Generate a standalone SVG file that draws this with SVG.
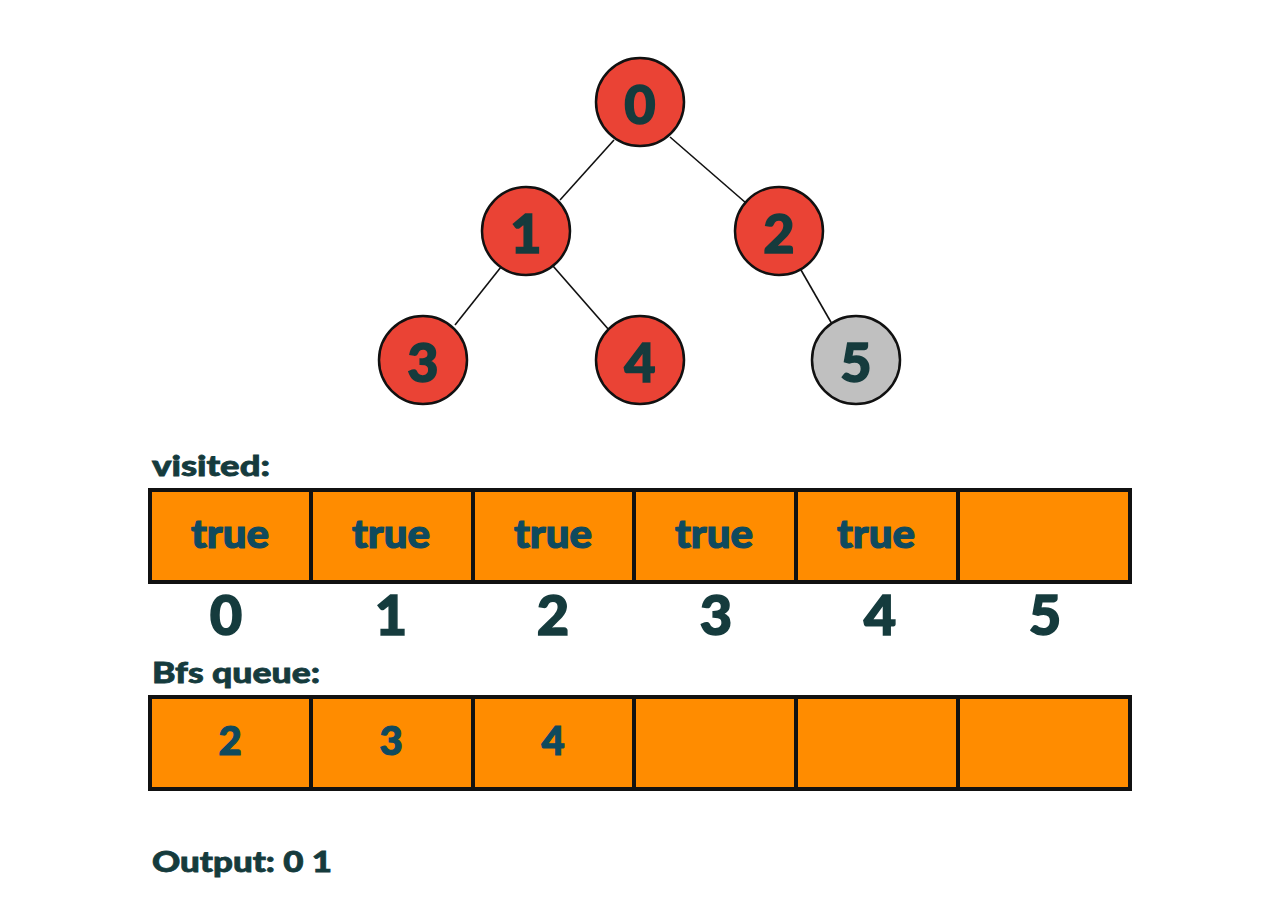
<svg xmlns="http://www.w3.org/2000/svg" width="1280" height="914" viewBox="0 0 1280 914">
<style>
.node circle{stroke:#111;stroke-width:2.5}
.red{fill:#ea4335}
.gray{fill:#c0c0c0}
.nt{font-family:"Lato","Open Sans",sans-serif;font-weight:900;font-size:54px;fill:#153b3d;text-anchor:middle;dominant-baseline:central;stroke:#153b3d;stroke-width:1.5}
.edges line{stroke:#111;stroke-width:1.6}
.cell{fill:#ff8c00;stroke:#111;stroke-width:4}
.val{font-family:"Lato","Open Sans",sans-serif;font-weight:900;font-size:40px;fill:#0f4a5e;text-anchor:middle;dominant-baseline:central;stroke:#0f4a5e;stroke-width:1.2}
.idx{font-family:"Lato","Open Sans",sans-serif;font-weight:900;font-size:56px;fill:#153b3d;text-anchor:middle;stroke:#153b3d;stroke-width:1.5}
.lbl{font-family:"Lato","Open Sans",sans-serif;font-weight:900;font-size:29px;fill:#153b3d;stroke:#153b3d;stroke-width:0.8}
</style>
<rect width="1280" height="914" fill="#fff"/>
<g class="edges">
<line x1="614" y1="140" x2="560" y2="200"/>
<line x1="670" y1="137" x2="746" y2="203"/>
<line x1="501" y1="267" x2="455" y2="325"/>
<line x1="553" y1="266" x2="609" y2="330"/>
<line x1="801" y1="270" x2="832" y2="324"/>
</g>
<g id="n0" class="node"><circle class="red" cx="640" cy="102" r="44"/><text class="nt" x="640" y="103">0</text></g>
<g id="n1" class="node"><circle class="red" cx="526" cy="231" r="44"/><text class="nt" x="526" y="232">1</text></g>
<g id="n2" class="node"><circle class="red" cx="779" cy="231" r="44"/><text class="nt" x="779" y="232">2</text></g>
<g id="n3" class="node"><circle class="red" cx="423" cy="360" r="44"/><text class="nt" x="423" y="361">3</text></g>
<g id="n4" class="node"><circle class="red" cx="640" cy="360" r="44"/><text class="nt" x="640" y="361">4</text></g>
<g id="n5" class="node"><circle class="gray" cx="856" cy="360" r="44"/><text class="nt" x="856" y="361">5</text></g>

<text class="lbl" x="152" y="476" textLength="118" lengthAdjust="spacingAndGlyphs">visited:</text>
<g id="visited">
<rect class="cell" x="150" y="490" width="161" height="92"/>
<rect class="cell" x="311" y="490" width="162" height="92"/>
<rect class="cell" x="473" y="490" width="161" height="92"/>
<rect class="cell" x="634" y="490" width="162" height="92"/>
<rect class="cell" x="796" y="490" width="162" height="92"/>
<rect class="cell" x="958" y="490" width="172" height="92"/>
<text class="val" x="230" y="533" textLength="78" lengthAdjust="spacingAndGlyphs">true</text>
<text class="val" x="391" y="533" textLength="78" lengthAdjust="spacingAndGlyphs">true</text>
<text class="val" x="553" y="533" textLength="78" lengthAdjust="spacingAndGlyphs">true</text>
<text class="val" x="714" y="533" textLength="78" lengthAdjust="spacingAndGlyphs">true</text>
<text class="val" x="876" y="533" textLength="78" lengthAdjust="spacingAndGlyphs">true</text>
</g>
<g id="indices">
<text class="idx" x="226" y="635">0</text>
<text class="idx" x="391" y="635">1</text>
<text class="idx" x="553" y="635">2</text>
<text class="idx" x="716" y="635">3</text>
<text class="idx" x="880" y="635">4</text>
<text class="idx" x="1045" y="635">5</text>
</g>

<text class="lbl" x="152" y="683" textLength="168" lengthAdjust="spacingAndGlyphs">Bfs queue:</text>
<g id="queue">
<rect class="cell" x="150" y="697" width="161" height="92"/>
<rect class="cell" x="311" y="697" width="162" height="92"/>
<rect class="cell" x="473" y="697" width="161" height="92"/>
<rect class="cell" x="634" y="697" width="162" height="92"/>
<rect class="cell" x="796" y="697" width="162" height="92"/>
<rect class="cell" x="958" y="697" width="172" height="92"/>
<text class="val" x="230" y="740">2</text>
<text class="val" x="391" y="740">3</text>
<text class="val" x="553" y="740">4</text>
</g>

<text class="lbl" x="152" y="872" font-size="34" textLength="180" lengthAdjust="spacingAndGlyphs">Output: 0 1</text>
</svg>
